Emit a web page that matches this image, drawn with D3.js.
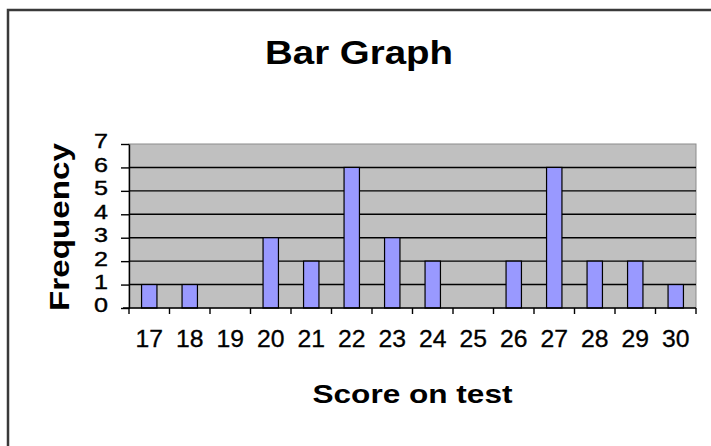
<!DOCTYPE html>
<html>
<head>
<meta charset="utf-8">
<script src="https://cdn.jsdelivr.net/npm/d3@7"></script>
<style>
  html, body { margin: 0; padding: 0; background: #fff; }
  svg { display: block; }
  text { font-family: "Liberation Sans", Arial, Helvetica, sans-serif; fill: #000; }
</style>
</head>
<body>
<svg id="chart" width="711" height="446"></svg>
<script>
const categories = ["17","18","19","20","21","22","23","24","25","26","27","28","29","30"];
const frequencies = [1, 1, 0, 3, 2, 6, 3, 2, 0, 2, 6, 2, 2, 1];
const yTicks = [0, 1, 2, 3, 4, 5, 6, 7];
const titleText = "Bar Graph";
const xTitle = "Score on test";
const yTitle = "Frequency";

const svg = d3.select("#chart");
const plot = { left: 129, right: 696, top: 144, bottom: 308 };

// outer frame (only top/left edges visible)
svg.append("rect")
  .attr("x", 8).attr("y", 10).attr("width", 740).attr("height", 480)
  .attr("fill", "#fff").attr("stroke", "#3a3a3a").attr("stroke-width", 2.5);

const x = d3.scaleBand().domain(categories).range([plot.left, plot.right]).paddingInner(0).paddingOuter(0);
const y = d3.scaleLinear().domain([0, 7]).range([plot.bottom, plot.top]);

// plot background
svg.append("rect")
  .attr("x", plot.left).attr("y", plot.top)
  .attr("width", plot.right - plot.left).attr("height", plot.bottom - plot.top)
  .attr("fill", "#c0c0c0").attr("stroke", "#8c8c8c").attr("stroke-width", 1);

// gridlines
svg.append("g").selectAll("line")
  .data(yTicks.filter(d => d > 0 && d < 7))
  .join("line")
  .attr("x1", plot.left).attr("x2", plot.right)
  .attr("y1", d => y(d)).attr("y2", d => y(d))
  .attr("stroke", "#000").attr("stroke-width", 1.4);

// bars
const barW = x.bandwidth() * 0.38;
svg.append("g").selectAll("rect")
  .data(categories.map((c, i) => ({ c, v: frequencies[i] })).filter(d => d.v > 0))
  .join("rect")
  .attr("x", d => x(d.c) + x.bandwidth() / 2 - barW / 2)
  .attr("width", barW)
  .attr("y", d => y(d.v))
  .attr("height", d => y(0) - y(d.v))
  .attr("fill", "#9999ff").attr("stroke", "#000").attr("stroke-width", 1.2);

// y axis
const yAxis = svg.append("g")
  .attr("transform", `translate(${plot.left},0)`)
  .call(d3.axisLeft(y).tickValues(yTicks).tickFormat(d3.format("d")).tickSize(8).tickPadding(13).tickSizeOuter(0));
yAxis.select(".domain").attr("stroke", "#000").attr("stroke-width", 1.4);
yAxis.selectAll(".tick line").attr("stroke", "#000").attr("stroke-width", 1.4);
yAxis.selectAll(".tick text")
  .style("font-size", "21px").attr("dy", "0.35em").attr("y", -3.5)
  .attr("textLength", 14).attr("lengthAdjust", "spacingAndGlyphs")
  .attr("stroke", "#000").attr("stroke-width", 0.4)
  .style("font-family", "'Liberation Sans', Arial, sans-serif");

// x axis: labels centered in bands, tick marks between categories
const xAxis = svg.append("g")
  .attr("transform", `translate(0,${plot.bottom})`)
  .call(d3.axisBottom(x).tickSize(0).tickPadding(23).tickSizeOuter(0));
xAxis.select(".domain").remove();
xAxis.selectAll(".tick text")
  .style("font-size", "23px")
  .attr("textLength", 27.5).attr("lengthAdjust", "spacingAndGlyphs")
  .attr("stroke", "#000").attr("stroke-width", 0.3)
  .style("font-family", "'Liberation Sans', Arial, sans-serif");
svg.append("line")
  .attr("x1", plot.left - 6).attr("x2", plot.right)
  .attr("y1", plot.bottom).attr("y2", plot.bottom)
  .attr("stroke", "#000").attr("stroke-width", 1.4);
const edges = categories.map(c => x(c)).concat([x(categories[categories.length - 1]) + x.bandwidth()]);
svg.append("g").selectAll("line")
  .data(edges)
  .join("line")
  .attr("x1", d => d).attr("x2", d => d)
  .attr("y1", plot.bottom).attr("y2", plot.bottom + 6)
  .attr("stroke", "#000").attr("stroke-width", 1.4);

// titles
svg.append("text")
  .attr("x", 359).attr("y", 64)
  .attr("text-anchor", "middle")
  .attr("textLength", 188).attr("lengthAdjust", "spacingAndGlyphs")
  .style("font-size", "33px").style("font-weight", "bold")
  .text(titleText);

svg.append("text")
  .attr("x", (plot.left + plot.right) / 2).attr("y", 403)
  .attr("text-anchor", "middle")
  .attr("textLength", 200).attr("lengthAdjust", "spacingAndGlyphs")
  .style("font-size", "25px").style("font-weight", "bold")
  .text(xTitle);

svg.append("text")
  .attr("transform", "translate(69,227) rotate(-90)")
  .attr("text-anchor", "middle")
  .attr("textLength", 168).attr("lengthAdjust", "spacingAndGlyphs")
  .style("font-size", "28px").style("font-weight", "bold")
  .text(yTitle);
</script>
</body>
</html>
